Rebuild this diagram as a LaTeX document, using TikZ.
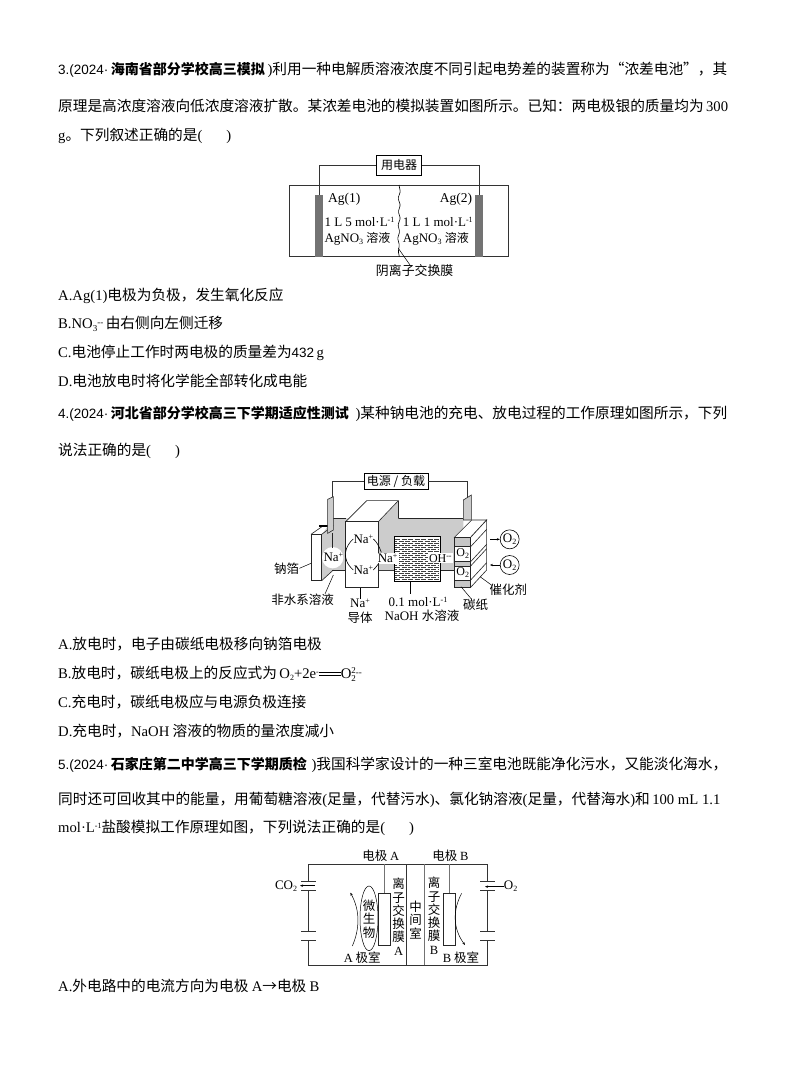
\documentclass[tikz,border=0pt]{standalone}
\usepackage{fontspec}
\setmainfont{Noto Sans CJK SC}
\newfontfamily\latf{Liberation Serif}
\newfontfamily\numf{Liberation Sans}
\newcommand{\lat}[1]{{\latf #1}}
\newcommand{\num}[1]{{\numf\fontsize{13.5}{14}\selectfont #1}}
\newcommand{\bd}[1]{{\bfseries\fontsize{14}{16}\selectfont #1}}
\newcommand{\stk}[3]{{\latf\fontsize{9}{9}\selectfont\rlap{\raisebox{4.5pt}{#1}}\raisebox{-3.5pt}{#2}\raisebox{3pt}{#3}}}
\newcommand{\lsub}[1]{\raisebox{-2pt}{\fontsize{8}{8}\selectfont #1}}
\newcommand{\lsup}[1]{\raisebox{4pt}{\fontsize{8}{8}\selectfont #1}}
\newcommand{\dbl}{\raisebox{2.5pt}{\rule{22pt}{.7pt}}\llap{\raisebox{5pt}{\rule{22pt}{.7pt}}}}
\XeTeXlinebreaklocale "zh"
\XeTeXlinebreakskip=0pt plus 2pt minus .5pt
\tikzset{
  ln/.style={anchor=base west,inner sep=0pt,font=\fontsize{14.67}{16}\selectfont},
  lab/.style={inner sep=0pt,font=\fontsize{12.5}{13.3}\selectfont,align=center},
  latlab/.style={inner sep=0pt,font=\latf\fontsize{12.5}{13.3}\selectfont,align=center},
  smlab/.style={inner sep=0pt,font=\latf\fontsize{13}{14}\selectfont,align=center},
  wire/.style={draw=black!80,line width=.6pt},
  gwire/.style={draw=black!55,line width=1pt},
  lead/.style={draw=black,line width=.5pt},
  cell/.style={draw=black!85,line width=.6pt},
  arr/.style={-{Stealth[length=3pt,width=2.4pt]},line width=.5pt},
}
\usetikzlibrary{arrows.meta}
\begin{document}
\begin{tikzpicture}[x=1pt,y=-1pt]
\useasboundingbox (0,0) rectangle (794,1077);
\fill[white] (0,0) rectangle (794,1077);
% text lines, question 3
\node[ln] (a1) at (58,74) {\hbox to 669pt{\num{3.(2024·}\,\bd{海南省部分学校高三模拟} \lat{)}利用一种电解质溶液浓度不同引起电势差的装置称为“浓差电池”，其}};
\node[ln] (a2) at (58,111) {\hbox to 669pt{原理是高浓度溶液向低浓度溶液扩散。某浓差电池的模拟装置如图所示。已知：两电极银的质量均为\,\lat{300}}};
\node[ln] (a3) at (58,140) {\lat{g}。下列叙述正确的是\lat{(\hspace{24pt})}};
\node[ln] (a4) at (58,300) {\lat{A.Ag(1)}电极为负极，发生氧化反应};
\node[ln] (a5) at (58,328) {\lat{B.NO}\stk{}{3}{--}\,由右侧向左侧迁移};
\node[ln] (a6) at (58,357) {\lat{C.}电池停止工作时两电极的质量差为\num{432}\,\lat{g}};
\node[ln] (a7) at (58,386) {\lat{D.}电池放电时将化学能全部转化成电能};
% question 4
\node[ln] (b1) at (58,418) {\hbox to 669pt{\num{4.(2024·}\,\bd{河北省部分学校高三下学期适应性测试} \lat{)}某种钠电池的充电、放电过程的工作原理如图所示，下列}};
\node[ln] (b2) at (58,455) {说法正确的是\lat{(\hspace{24pt})}};
\node[ln] (b3) at (58,649) {\lat{A.}放电时，电子由碳纸电极移向钠箔电极};
\node[ln] (b4) at (58,678) {\lat{B.}放电时，碳纸电极上的反应式为\,\lat{O\lsub{2}+2e\lsup{-}}\dbl\lat{O}\stk{2}{2}{--}};
\node[ln] (b5) at (58,707) {\lat{C.}充电时，碳纸电极应与电源负极连接};
\node[ln] (b6) at (58,736) {\lat{D.}充电时，\lat{NaOH} 溶液的物质的量浓度减小};
% question 5
\node[ln] (c1) at (58,769) {\hbox to 669pt{\num{5.(2024·}\,\bd{石家庄第二中学高三下学期质检} \lat{)}我国科学家设计的一种三室电池既能净化污水，又能淡化海水，}};
\node[ln] (c2) at (58,804) {\hbox to 669pt{同时还可回收其中的能量，用葡萄糖溶液\lat{(}足量，代替污水\lat{)}、氯化钠溶液\lat{(}足量，代替海水\lat{)}和\,\hbox{\lat{100 mL 1.1}}}};
\node[ln] (c3) at (58,832) {\lat{mol·L\lsup{-1}}盐酸模拟工作原理如图，下列说法正确的是\lat{(\hspace{24pt})}};
\node[ln] (c4) at (58,991) {\lat{A.}外电路中的电流方向为电极 \lat{A}→电极 \lat{B}};

% ---------- diagram 1 (zoom units)
\begin{scope}[shift={(270,150)},x=.33333pt,y=-.33333pt]
\draw[wire] (58,105) rectangle (716,320);
\fill[black!55] (135,135) rectangle (158,320);
\fill[black!55] (615,135) rectangle (639,320);
\node[draw=black,line width=.6pt,fill=white,minimum width=45pt,minimum height=20pt,lab,font=\fontsize{12}{14}\selectfont] (load) at (387,45) {用电器};
\coordinate (e1) at (147,135);
\coordinate (e2) at (627,135);
\draw[wire] (load.west) -| (e1);
\draw[wire] (load.east) -| (e2);
\draw[line width=.6pt,rounded corners=1pt] (387,105) -- (391,125) -- (384,145) -- (391,165) -- (385,185) -- (391,205) -- (384,225) -- (389,245) -- (383,265) -- (388,285) -- (385,305) -- (388,320);
\draw[lead] (385,295) -- (420,345);
\node[lab,font=\fontsize{12.9}{14}\selectfont] (mem) at (434,362) {阴离子交换膜};
\node[smlab,anchor=west,font=\latf\fontsize{13.5}{14}\selectfont] (ag1) at (174,147) {Ag(1)};
\node[smlab,anchor=east,font=\latf\fontsize{13.5}{14}\selectfont] (ag2) at (607,147) {Ag(2)};
\node[smlab,anchor=west] (s1) at (163,217) {1 L 5 mol·L\lsup{-1}};
\node[smlab,anchor=west] (s2) at (398,217) {1 L 1 mol·L\lsup{-1}};
\node[smlab,anchor=west] (s3) at (163,267) {AgNO\lsub{3} {\rmfamily\fontsize{12}{13}\selectfont 溶液}};
\node[smlab,anchor=west] (s4) at (398,267) {AgNO\lsub{3} {\rmfamily\fontsize{12}{13}\selectfont 溶液}};
\end{scope}

% ---------- diagram 2 (zoom units)
\begin{scope}[shift={(260,465)},x=.33333pt,y=-.33333pt]
% solution
\fill[black!20] (185,210) -- (220,160) -- (610,160) -- (610,315) -- (220,315) -- (185,347) -- cycle;
\draw[cell] (220,160) -- (257,160);
\draw[cell] (415,160) -- (610,160);
\draw[cell] (215,315) -- (257,315);
\draw[cell] (355,315) -- (403,315);
\draw[cell] (540,315) -- (584,315);
\draw[cell] (220,315) -- (185,347);
% circle
\fill[white] (218,278) circle (32);
% foil
\draw[cell,fill=white] (153,208) rectangle (185,347);
\draw[cell] (153,208) -- (190,182);
\draw[cell] (185,208) -- (220,182);
\draw[line width=1.3pt] (178,183) -- (205,183);
% tabs
\draw[cell,fill=black!20] (203,103) -- (220,95) -- (220,195) -- (203,205) -- cycle;
\draw[cell,fill=black!20] (610,105) -- (634,90) -- (634,165) -- (610,165) -- cycle;
% load
\node[draw=black,line width=.6pt,fill=white,minimum width=64pt,minimum height=16pt,lab,font=\fontsize{12}{14}\selectfont] (src) at (408,49) {电源 / 负载};
\coordinate (t1) at (218,97);
\coordinate (t2) at (622,97);
\draw[wire] (src.west) -| (t1);
\draw[wire] (src.east) -| (t2);
\draw[cell] (218,205) -- (218,248);
% conductor
\fill[black!20] (355,170) -- (415,107) -- (415,315) -- (355,315) -- cycle;
\draw[cell,fill=white] (257,170) -- (320,107) -- (415,107) -- (355,170) -- cycle;
\draw[cell] (415,107) -- (415,160);
\draw[cell,fill=white] (257,170) rectangle (355,368);
% mesh
\draw[line width=.4pt,fill=white] (403,213) rectangle (540,350);
\foreach \yy in {222,234,...,342} {\draw[draw=black!75,line width=.55pt,dash pattern=on 5pt off 1.5pt] (405,\yy) -- (538,\yy);}
\foreach \yy in {228,240,...,342} {\draw[draw=black!75,line width=.55pt,dash pattern=on 5pt off 1.5pt,dash phase=3pt] (405,\yy) -- (538,\yy);}
% stack
\draw[cell,fill=white] (583,217) -- (635,165) -- (680,165) -- (632,217) -- cycle;
\draw[cell,fill=white] (632,217) -- (680,165) -- (680,315) -- (632,367) -- cycle;
\draw[cell,fill=black!22] (583,217) rectangle (632,367);
\fill[white] (586,245) rectangle (630,290);
\fill[white] (586,303) rectangle (630,345);
\foreach \yy in {245,290,303,345} {\draw[cell] (583,\yy) -- (632,\yy); \draw[cell] (632,\yy) -- (680,\yy-52);}
\node[smlab,font=\latf\fontsize{12}{14}\selectfont] (o1) at (608,267) {O\lsub{2}};
\node[smlab,font=\latf\fontsize{12}{14}\selectfont] (o2) at (608,324) {O\lsub{2}};
% circles
\node[draw=black,circle,line width=.6pt,minimum size=19pt,inner sep=0pt,font=\latf\fontsize{13}{14}\selectfont] (c1o) at (749,223) {O\lsub{2}};
\node[draw=black,circle,line width=.6pt,minimum size=19pt,inner sep=0pt,font=\latf\fontsize{13}{14}\selectfont] (c2o) at (749,300) {O\lsub{2}};
\coordinate (a1s) at (690,223);
\coordinate (a2e) at (690,300);
\draw[arr] (a1s) -- (c1o);
\draw[arr] (c2o) -- (a2e);
% ions
\node[smlab] (na0) at (220,278) {Na\lsup{+}};
\node[smlab] (na1) at (310,222) {Na\lsup{+}};
\node[smlab] (na2) at (310,315) {Na\lsup{+}};
\node[smlab,fill=white,inner sep=1pt] (na3) at (383,280) {Na\lsup{+}};
\node[smlab,fill=white,inner sep=1pt,font=\latf\fontsize{12}{14}\selectfont] (oh) at (541,280) {OH\lsup{--}};
\draw[line width=.6pt] (na1.west) .. controls (258,240) and (240,280) .. (na2.west);
\draw[line width=.6pt] (na1.east) .. controls (350,230) and (358,245) .. (364,262);
\draw[line width=.6pt] (na2.east) .. controls (342,312) and (350,305) .. (356,295);
% callouts
\node[lab] (foil) at (80,310) {钠箔};
\draw[lead] (foil.east) -- (153,295);
\node[lab] (nw) at (128,405) {非水系溶液};
\draw[lead] (195,387) -- (220,330);
\node[smlab] (con1) at (300,415) {Na\lsup{+}};
\node[lab] (con2) at (300,458) {导体};
\draw[lead] (con1.north) -- (300,368);
\node[smlab] (sol1) at (474,410) {0.1 mol·L\lsup{-1}};
\node[smlab] (sol2) at (486,453) {NaOH {\rmfamily\fontsize{12.5}{13}\selectfont 水溶液}};
\draw[lead] (450,350) -- (450,388);
\node[lab] (cp) at (647,420) {碳纸};
\draw[lead] (603,365) -- (635,403);
\node[lab] (cat) at (745,375) {催化剂};
\draw[lead] (660,335) -- (697,362);
\end{scope}

% ---------- diagram 3 (zoom units)
\begin{scope}[shift={(265,845)},x=.33333pt,y=-.33333pt]
\coordinate (tl) at (130,58); \coordinate (tr) at (667,58);
\coordinate (bl) at (130,360); \coordinate (br) at (667,360);
\draw[wire] (130,110) -- (tl) -- (tr) -- (667,110);
\draw[wire] (130,285) -- (bl) -- (br) -- (667,285);
\draw[wire] (130,135) -- (130,258);
\draw[wire] (667,135) -- (667,258);
\foreach \yy in {110,135,258,285} {
  \draw[wire] (108,\yy) -- (153,\yy);
  \draw[wire] (645,\yy) -- (690,\yy);
}
\draw[wire] (425,58) -- (425,360);
\draw[gwire,line width=1.3pt] (479,58) -- (479,360);
\draw[gwire] (357,58) -- (357,145);
\draw[gwire] (552,58) -- (552,145);
\node[draw=black!85,line width=.7pt,minimum width=11.7pt,minimum height=51.7pt,inner sep=0pt] (ea) at (357,222) {};
\node[draw=black!85,line width=.7pt,minimum width=11.7pt,minimum height=51.7pt,inner sep=0pt] (eb) at (552,222) {};
\draw[line width=.5pt] (312,220) ellipse (27 and 97);
\node[lab] (mic) at (312,222) {微\\生\\物};
\node[lab] (ma) at (401,215) {离\\子\\交\\换\\膜\\{\latf A}};
\node[lab] (mm) at (452,225) {中\\间\\室};
\node[lab] (mb) at (507,212) {离\\子\\交\\换\\膜\\{\latf B}};
\node[lab] (ela) at (347,33) {电极 {\latf A}};
\node[lab] (elb) at (556,33) {电极 {\latf B}};
\node[lab] (rma) at (292,338) {{\latf A} 极室};
\node[lab] (rmb) at (588,338) {{\latf B} 极室};
\draw[arr] (262,303) .. controls (285,250) and (285,195) .. (256,143);
\draw[arr] (590,145) .. controls (563,195) and (563,250) .. (600,300);
\node[smlab,anchor=east] (co2) at (97,124) {CO\lsub{2}};
\node[smlab,anchor=west] (o2r) at (716,125) {O\lsub{2}};
\coordinate (ca) at (105,122);
\coordinate (cb) at (150,122);
\coordinate (cc) at (660,125);
\draw[arr] (cb) -- (ca);
\draw[arr] (o2r.west) -- (cc);
\end{scope}
\end{tikzpicture}
\end{document}
